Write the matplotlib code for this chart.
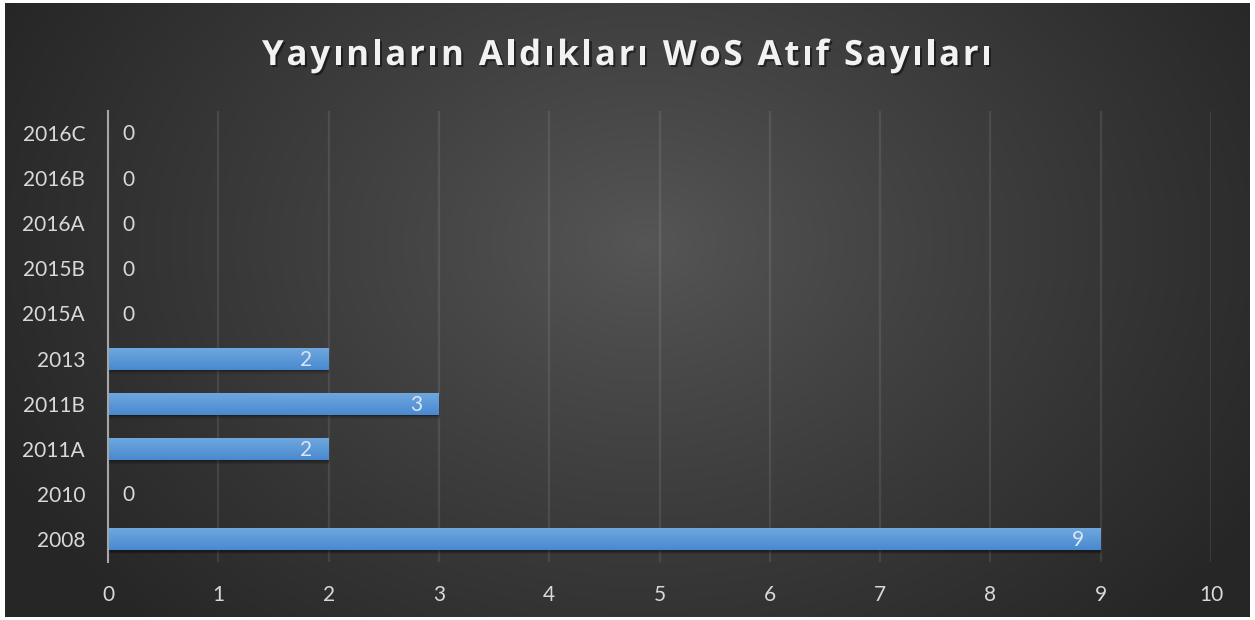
import numpy as np
import matplotlib
matplotlib.use("Agg")
import matplotlib.pyplot as plt
import matplotlib.patheffects as pe
from matplotlib.colors import LinearSegmentedColormap

categories = ["2008", "2010", "2011A", "2011B", "2013", "2015A", "2015B", "2016A", "2016B", "2016C"]
values = [9, 0, 2, 3, 2, 0, 0, 0, 0, 0]
x_ticks = [0, 1, 2, 3, 4, 5, 6, 7, 8, 9, 10]
title = "Yayınların Aldıkları WoS Atıf Sayıları"

W, H = 1255, 620
fig = plt.figure(figsize=(W / 100, H / 100), dpi=100)
fig.patch.set_facecolor("white")

# background with radial gradient
bg = fig.add_axes([5 / W, 3 / H, 1245 / W, 614 / H])
bg.set_axis_off()
yy, xx = np.mgrid[0:614, 0:1245]
cx, cy = 640, 240
r = np.sqrt(((xx - cx) / 720.0) ** 2 + ((yy - cy) / 540.0) ** 2)
r = np.clip(r, 0, 1) ** 0.9
light = np.array([0x56, 0x56, 0x56]) / 255.0
dark = np.array([0x26, 0x26, 0x26]) / 255.0
img = light[None, None, :] * (1 - r[..., None]) + dark[None, None, :] * r[..., None]
bg.imshow(img, aspect="auto", extent=[0, 1, 0, 1], origin="upper")
bg.set_xlim(0, 1)
bg.set_ylim(0, 1)

ax = fig.add_axes([108 / W, 1 - 561.5 / H, (1211 - 108) / W, (561.5 - 110.5) / H])
ax.set_facecolor("none")

ypos = np.arange(len(categories))
bar_h = 0.49
bars = ax.barh(ypos, values, height=bar_h, color="#5b9bd5", zorder=3)

# gradient and soft shadow on bars
cmap = LinearSegmentedColormap.from_list("bg", ["#4a89d0", "#70a9e0"])
grad = np.linspace(0, 1, 64).reshape(-1, 1)
for b in bars:
    w = b.get_width()
    if w <= 0:
        continue
    x0, y0, h = b.get_x(), b.get_y(), b.get_height()
    for k, a in [(0.09, 0.10), (0.06, 0.15), (0.035, 0.2)]:
        ax.barh(y0 + h / 2 - k, w + k * 0.12, height=h, left=x0, color="black",
                alpha=a, zorder=2, linewidth=0)
    im = ax.imshow(grad, cmap=cmap, aspect="auto", extent=[x0, x0 + w, y0, y0 + h],
                   origin="lower", zorder=4)
    im.set_clip_path(b)

ax.set_xlim(0, 10)
ax.set_ylim(-0.5, len(categories) - 0.5)
ax.set_xticks(x_ticks)
ax.set_xticklabels([str(t) for t in x_ticks])
ax.set_yticks(ypos)
ax.set_yticklabels(categories)

font = "Lato"
fs = 15
for lab in ax.get_xticklabels() + ax.get_yticklabels():
    lab.set_fontfamily(font)
    lab.set_fontsize(fs)
    lab.set_color("#d9d9d9")
ax.tick_params(axis="both", length=0)
ax.tick_params(axis="x", pad=17)
ax.tick_params(axis="y", pad=16.5)

ax.grid(axis="x", color="white", alpha=0.09, linewidth=1.6, zorder=0)
ax.set_axisbelow(True)
for s in ["top", "right", "bottom"]:
    ax.spines[s].set_visible(False)
ax.spines["left"].set_color("#a6a6a6")
ax.spines["left"].set_linewidth(1.5)
ax.spines["left"].set_zorder(5)

for yi, v in zip(ypos, values):
    if v > 0:
        ax.annotate(str(v), (v, yi), xytext=(-16.5, -1), textcoords="offset points",
                    ha="center", va="center", color="#dbe6f2", fontsize=fs,
                    fontfamily=font, zorder=6)
    else:
        ax.annotate(str(v), (v, yi), xytext=(14.5, -1), textcoords="offset points",
                    ha="center", va="center", color="#d9d9d9", fontsize=fs,
                    fontfamily=font, zorder=6)

# letter-spaced title
renderer = fig.canvas.get_renderer()
tfs = 25
tprops = dict(fontsize=tfs, fontweight="bold", color="#f2f2f2", fontfamily="Open Sans")
shadow = [pe.SimplePatchShadow(offset=(1.5, -1.5), shadow_rgbFace="black", alpha=0.45), pe.Normal()]
widths = []
for ch in title:
    t = fig.text(0, 0, ch if ch != " " else "a", **tprops)
    ext = t.get_window_extent(renderer)
    widths.append(ext.width * (0.45 if ch == " " else 1.0))
    t.remove()
target_left, target_right = 262, 992
spacing = (target_right - target_left - sum(widths)) / (len(title) - 1)
xcur = target_left
baseline = 1 - 65 / H
for ch, wch in zip(title, widths):
    if ch != " ":
        fig.text(xcur / W, baseline, ch, ha="left", va="baseline", path_effects=shadow, **tprops)
    xcur += wch + spacing

fig.savefig("out.png", dpi=100, facecolor=fig.get_facecolor())
